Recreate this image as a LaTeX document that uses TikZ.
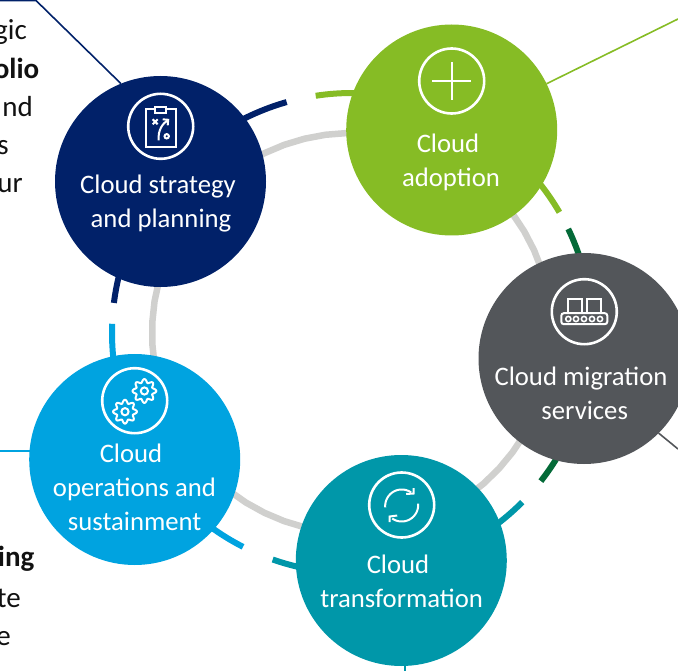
\documentclass[tikz,border=0pt]{standalone}
\usepackage{fontspec}
\setmainfont{Carlito}
\definecolor{navy}{HTML}{012169}
\definecolor{lime}{HTML}{86BC25}
\definecolor{forest}{HTML}{046A38}
\definecolor{slate}{HTML}{53565A}
\definecolor{teal2}{HTML}{0097A9}
\definecolor{sky}{HTML}{00A3E0}
\definecolor{ring}{HTML}{D0D0CE}
\definecolor{ink}{HTML}{111111}
\tikzset{
  disc/.style={circle,fill=#1,minimum size=211pt,inner sep=0pt,outer sep=0pt},
  lab/.style={text=white,anchor=base,inner sep=0pt,font=\fontsize{26.7}{30}\selectfont},
  side/.style={text=ink,anchor=base east,inner sep=0pt,font=\fontsize{29}{34}\selectfont},
  sideb/.style={side,font=\fontsize{29}{34}\selectfont\bfseries},
  leader/.style={draw=#1,line width=1.6pt},
  arcline/.style={draw=#1,line width=6pt,line cap=butt},
  icon/.style={draw=white,line width=2.6pt},
  thin icon/.style={draw=white,line width=2pt},
}
\newcommand{\bowarc}[4]{\draw[#1] plot[domain=#3:#4,samples=60] ({352+#2*cos(\x)},{333-#2*sin(\x)});}
\begin{document}
\begin{tikzpicture}[x=1pt,y=-1pt]
\useasboundingbox (0,0) rectangle (678,671);
\clip (0,0) rectangle (678,671);
% ring
\bowarc{draw=ring,line width=6.5pt}{200}{0}{360}
% coloured arcs
\bowarc{arcline=navy}{240}{105.8}{172.8}
\bowarc{arcline=lime}{240}{30.2}{98.7}
\bowarc{arcline=forest}{240}{-38.1}{25.7}
\bowarc{arcline=teal2}{240}{-109.3}{-44.8}
\bowarc{arcline=sky}{240}{177.8}{243}
% circles
\node[disc=navy] (strategy) at (160.5,181.5) {};
\node[disc=lime] (adoption) at (451.7,130) {};
\node[disc=slate] (migration) at (584,358.5) {};
\node[disc=teal2] (transformation) at (401.3,560.5) {};
\node[disc=sky] (operations) at (134.7,459.5) {};
% leaders
\coordinate (c1a) at (36,0.5);
\coordinate (c1b) at (0,0.5);
\coordinate (c2) at (678,19);
\coordinate (c3) at (678,449);
\coordinate (c4) at (405,672);
\coordinate (c5) at (0,451);
\draw[leader=navy] (strategy.112.5) -- (c1a) -- (c1b);
\draw[leader=lime] (adoption.26) -- (c2);
\draw[leader=slate] (migration.-45) -- (c3);
\draw[leader=teal2] (transformation.-88) -- (c4);
\draw[leader=sky] (operations.175.4 |- c5) -- (c5);
% circle text
\node[lab] (t1a) at (158,193.5) {Cloud strategy};
\node[lab] (t1b) at (161,227.5) {and planning};
\node[lab] (t2a) at (448,153) {Cloud};
\node[lab] (t2b) at (451,187) {adoption};
\node[lab] (t3a) at (581,385.8) {Cloud migration};
\node[lab] (t3b) at (584.7,419.8) {services};
\node[lab] (t4a) at (398,573.8) {Cloud};
\node[lab] (t4b) at (401.7,607.8) {transformation};
\node[lab] (t5a) at (131,462.5) {Cloud};
\node[lab] (t5b) at (134.5,496.5) {operations and};
\node[lab] (t5c) at (134.7,530.7) {sustainment};
% cropped side text
\node[side] (s1) at (27,40) {gic};
\node[sideb] (s2) at (39.5,78.5) {olio};
\node[side] (s3) at (33,116.5) {nd};
\node[side] (s4) at (9,155) {s};
\node[side] (s5) at (23,193) {ur};
\node[sideb] (s6) at (34.5,566.5) {ing};
\node[side] (s7) at (21,607) {te};
\node[side] (s8) at (11,645) {e};
% icon: clipboard
\begin{scope}[shift={(160.7,126.3)}]
\draw[icon] (0,0) circle[radius=32.5];
\draw[thin icon] (-14.3,-17.3) rectangle (15,20.7);
\draw[thin icon,fill=navy] (-5.5,-19) rectangle (5.5,-13.5);
\draw[thin icon] (-8,-7) -- (-3,-2) (-8,-2) -- (-3,-7);
\draw[thin icon] (-2,14) .. controls (-3,4) and (2,-3) .. (7,-6);
\draw[thin icon] (2,-7) -- (7.5,-6.5) -- (7,-1);
\draw[thin icon] (6,10) circle[radius=2.2];
\end{scope}
% icon: plus
\begin{scope}[shift={(451.7,81)}]
\draw[icon] (0,0) circle[radius=32.5];
\draw[thin icon] (-19.5,0) -- (19.5,0) (0,-19) -- (0,19);
\end{scope}
% icon: conveyor
\begin{scope}[shift={(584.3,311.7)}]
\draw[icon] (0,0) circle[radius=32.5];
\draw[thin icon] (-16,-12.5) rectangle (-2.7,1.5);
\draw[thin icon] (2.3,-12.5) rectangle (16.3,1.5);
\draw[thin icon,rounded corners=2.5pt] (-23,1.5) rectangle (23,12.5);
\foreach \cx in {-16,-8.3,-0.3,7.7,15.7}{
  \draw[thin icon,line width=1.6pt] (\cx,7.3) circle[radius=2.6];
}
\end{scope}
% icon: sync
\begin{scope}[shift={(401.7,505)}]
\draw[icon] (0,0) circle[radius=32.5];
\draw[thin icon] plot[domain=185:55,samples=30] ({16.5*cos(\x)},{1-16.5*sin(\x)});
\draw[thin icon] (4.5,-11) -- (12,-11.5) -- (12,-17);
\draw[thin icon] plot[domain=5:-125,samples=30] ({16.5*cos(\x)},{0-16.5*sin(\x)});
\draw[thin icon] (-4.5,10.5) -- (-12,11.5) -- (-12,17);
\end{scope}
% icon: gears
\begin{scope}[shift={(134.7,400.7)}]
\draw[icon] (0,0) circle[radius=32.5];
\foreach \gx/\gy in {9.7/-9.7,-9.7/11}{
  \draw[thin icon,line join=round] plot[domain=0:360,samples=129] ({\gx+(10.2+1.7*cos(8*\x))*cos(\x)},{\gy+(10.2+1.7*cos(8*\x))*sin(\x)}) -- cycle;
  \draw[thin icon] (\gx,\gy) circle[radius=3.6];
}
\end{scope}
\end{tikzpicture}
\end{document}
